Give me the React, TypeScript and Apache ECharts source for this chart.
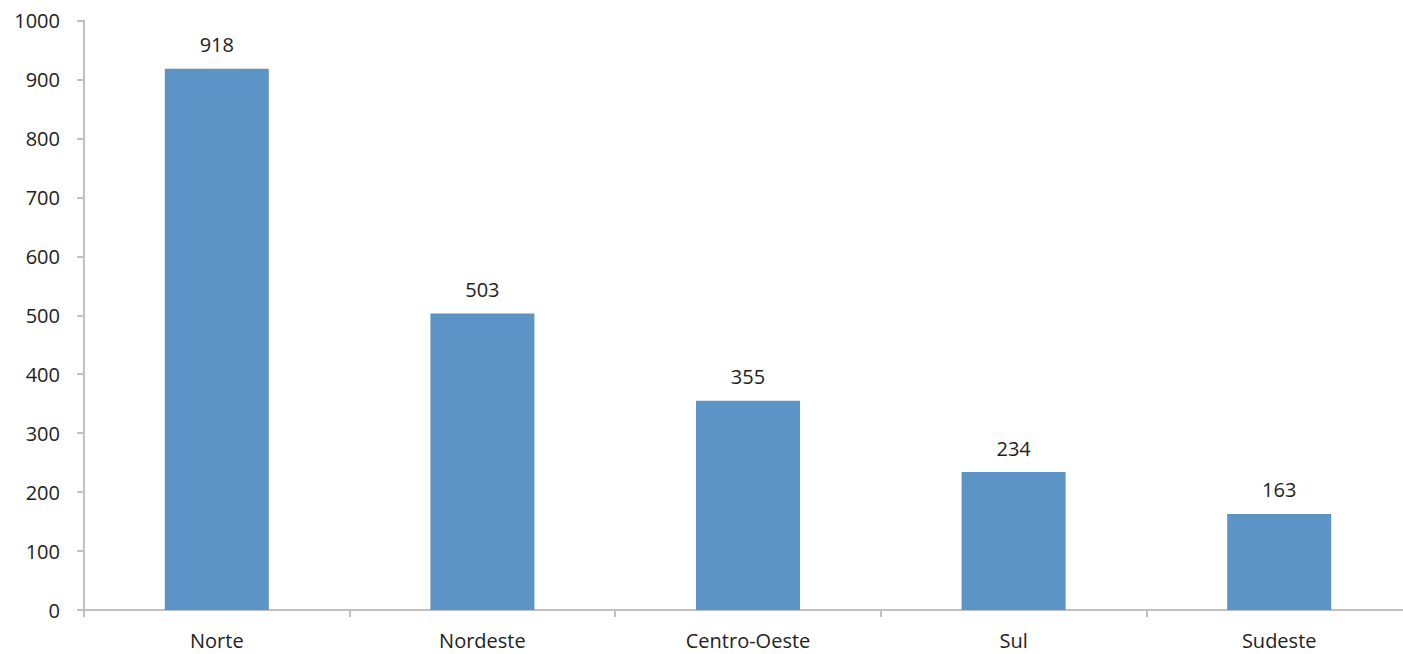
import React, { useEffect, useRef } from "react";
import * as echarts from "echarts";

const categories = ["Norte", "Nordeste", "Centro-Oeste", "Sul", "Sudeste"];
const values = [918, 503, 355, 234, 163];

export default function App() {
  const ref = useRef<HTMLDivElement>(null);
  useEffect(() => {
    document.body.style.overflow = "hidden";
    const chart = echarts.init(ref.current!, null, { renderer: "svg" });
    const font = "'Open Sans', 'Liberation Sans', sans-serif";
    chart.setOption({
      animation: false,
      grid: { left: 84, right: 0, top: 20.5, bottom: 44, containLabel: false },
      xAxis: {
        type: "category",
        data: categories,
        axisLine: { lineStyle: { color: "#c0c0c0", width: 2 } },
        axisTick: { show: true, length: 7, lineStyle: { color: "#c0c0c0", width: 2 } },
        axisLabel: { color: "#222", fontSize: 20, fontFamily: font, margin: 20 },
      },
      yAxis: {
        type: "value",
        min: 0,
        max: 1000,
        interval: 100,
        splitLine: { show: false },
        axisLine: { show: true, lineStyle: { color: "#c0c0c0", width: 2 } },
        axisTick: { show: true, length: 7, lineStyle: { color: "#c0c0c0", width: 2 } },
        axisLabel: {
          color: "#222",
          fontSize: 20,
          fontFamily: font,
          margin: 24,
          formatter: (v: number) => String(v),
        },
      },
      series: [
        {
          type: "bar",
          data: values,
          barWidth: 104,
          itemStyle: { color: "#5b94c5" },
          label: {
            show: true,
            position: "top",
            distance: 14,
            color: "#222",
            fontSize: 20,
            fontFamily: font,
          },
        },
      ],
    });
    return () => chart.dispose();
  }, []);
  return (
    <div
      ref={ref}
      style={{ position: "fixed", left: 0, top: 0, width: 1412, height: 654, background: "#fff" }}
    />
  );
}
